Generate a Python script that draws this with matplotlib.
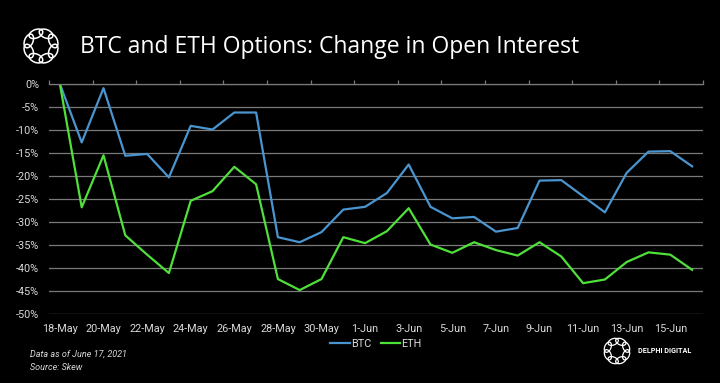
import numpy as np
import matplotlib
matplotlib.use("Agg")
import matplotlib.pyplot as plt
from matplotlib.patches import Ellipse

# data (% change in open interest since 18-May)
dates = ["18-May", "19-May", "20-May", "21-May", "22-May", "23-May", "24-May", "25-May",
         "26-May", "27-May", "28-May", "29-May", "30-May", "31-May", "1-Jun", "2-Jun",
         "3-Jun", "4-Jun", "5-Jun", "6-Jun", "7-Jun", "8-Jun", "9-Jun", "10-Jun",
         "11-Jun", "12-Jun", "13-Jun", "14-Jun", "15-Jun", "16-Jun"]
btc = [0, -12.7, -0.9, -15.6, -15.2, -20.3, -9.1, -9.9, -6.2, -6.2,
       -33.3, -34.4, -32.2, -27.3, -26.7, -23.7, -17.5, -26.7, -29.2, -28.9,
       -32.1, -31.3, -21.0, -20.9, -24.4, -27.9, -19.3, -14.7, -14.6, -17.9]
eth = [0, -26.8, -15.5, -32.9, -37.1, -41.1, -25.4, -23.3, -18.0, -21.8,
       -42.4, -44.8, -42.4, -33.3, -34.6, -32.0, -27.0, -34.9, -36.7, -34.4,
       -36.1, -37.3, -34.4, -37.5, -43.3, -42.5, -38.7, -36.6, -37.1, -40.4]
yticks = [0, -5, -10, -15, -20, -25, -30, -35, -40, -45, -50]

BLUE = "#4a95cf"
GREEN = "#4fe03a"
GRID = "#7a7a7a"
TXT = "#d9d9d9"

plt.rcParams['font.family'] = ['Roboto', 'DejaVu Sans']

fig = plt.figure(figsize=(7.2, 3.83), dpi=100, facecolor="black")
ax = fig.add_axes([49/720, 1-314/383, (703-49)/720, (314-84)/383])
ax.set_facecolor("black")

x = np.arange(len(dates))
ax.plot(x, btc, color=BLUE, lw=1.6, label="BTC")
ax.plot(x, eth, color=GREEN, lw=1.6, label="ETH")

ax.set_xlim(-0.5, len(dates)-0.5)
ax.set_ylim(-50, 0)
ax.set_yticks(yticks)
ax.set_yticklabels(["%d%%" % v for v in yticks])
ax.yaxis.grid(True, color=GRID, lw=0.9)
ax.set_axisbelow(True)

ax.set_xticks(x[::2])
ax.set_xticklabels(dates[::2])
ax.set_xticks(np.arange(-0.5, len(dates), 2), minor=True)
ax.tick_params(axis='x', which='major', length=0, pad=7, colors=TXT, labelsize=7.8)
ax.tick_params(axis='x', which='minor', top=True, bottom=False, direction='out',
               length=3, color=GRID, width=0.9)
ax.tick_params(axis='y', length=0, pad=7, colors=TXT, labelsize=7.8)
for s in ["left", "right", "bottom"]:
    ax.spines[s].set_visible(False)
ax.spines["top"].set_color(GRID)
ax.spines["top"].set_linewidth(0.9)

leg = ax.legend(loc="center", bbox_to_anchor=(0.5, -0.13), ncol=2, frameon=False,
                fontsize=7.8, handlelength=1.8, handletextpad=0.1, columnspacing=0.9)
for t in leg.get_texts():
    t.set_color(TXT)


def logo(cx, cy, size, lw):
    # ring of interlocking loops, in a small square axes (pixel coords of centre)
    lax = fig.add_axes([(cx-size/2)/720, (cy-size/2)/383, size/720, size/383])
    lax.set_xlim(-1, 1)
    lax.set_ylim(-1, 1)
    lax.axis("off")
    n = 8
    for k in range(n):
        a = 2*np.pi*k/n + np.pi/8
        e = Ellipse((0.66*np.cos(a), 0.66*np.sin(a)), width=0.72, height=0.42,
                    angle=np.degrees(a)+90, fill=False, ec="white", lw=lw)
        lax.add_patch(e)


logo(41, 383-46, 40, 1.1)
logo(617, 383-351, 30, 0.9)

fig.text(80/720, 1-47/383, "BTC and ETH Options: Change in Open Interest",
         color="white", fontsize=16.5, family=['Open Sans', 'DejaVu Sans'], va="center")
fig.text(638/720, 1-351/383, "DELPHI DIGITAL", color="white", fontsize=5.2,
         va="center", fontweight="bold")
fig.text(30/720, 1-354/383, "Data as of June 17, 2021", color=TXT, fontsize=6.5,
         style="italic", va="center")
fig.text(30/720, 1-367/383, "Source: Skew", color=TXT, fontsize=6.5,
         style="italic", va="center")

fig.savefig("out.png", dpi=100, facecolor="black")
